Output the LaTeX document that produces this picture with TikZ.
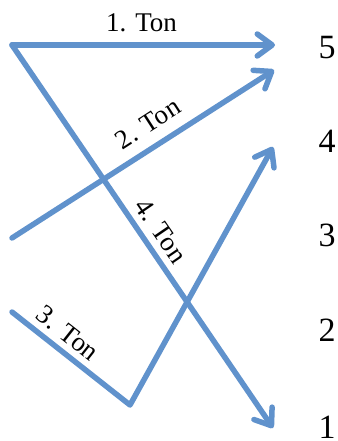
\documentclass[tikz,border=0pt]{standalone}
\usepackage{fontspec}
\setmainfont{Liberation Serif}
\usetikzlibrary{arrows.meta}
\definecolor{tonblue}{RGB}{96,146,204}
\tikzset{
  tonline/.style={draw=tonblue, line width=5.5pt, line cap=round, line join=round},
  tonarrow/.style={tonline, -{Straight Barb[length=15pt,width=22pt,line cap=round,line join=round]}},
  tonlabel/.style={font=\fontsize{27}{30}\selectfont, inner sep=0pt},
  level/.style={font=\fontsize{34}{40}\selectfont, inner sep=0pt}
}
\begin{document}
\begin{tikzpicture}[x=1pt,y=-1pt]
\useasboundingbox (0,0) rectangle (337,441);
% end points
\coordinate (s1) at (12,45);
\coordinate (e1) at (275,45);
\coordinate (e4) at (273,428);
\coordinate (s2) at (12,238);
\coordinate (e2) at (274,70);
\coordinate (s3) at (12,312);
\coordinate (m3) at (130,405);
\coordinate (e3) at (273,147);
% connectors
\draw[tonarrow] (s1) -- (e1);
\draw[tonarrow] (s1) -- (e4);
\draw[tonarrow] (s2) -- (e2);
\draw[tonarrow] (s3) -- (m3) -- (e3);
% labels
\node[tonlabel, anchor=base] (l1) at (141.5,32) {1. Ton};
\node[tonlabel, rotate=32.8] (l2) at (148,123.5) {2. Ton};
\node[tonlabel, rotate=-38.2] (l3) at (68,333) {3. Ton};
\node[tonlabel, rotate=-55.6] (l4) at (161,231) {4. Ton};
% levels
\node[level] (n5) at (327,48) {5};
\node[level] (n4) at (327,141) {4};
\node[level] (n3) at (327,235) {3};
\node[level] (n2) at (327,330) {2};
\node[level] (n1) at (327,427) {1};
\end{tikzpicture}
\end{document}
